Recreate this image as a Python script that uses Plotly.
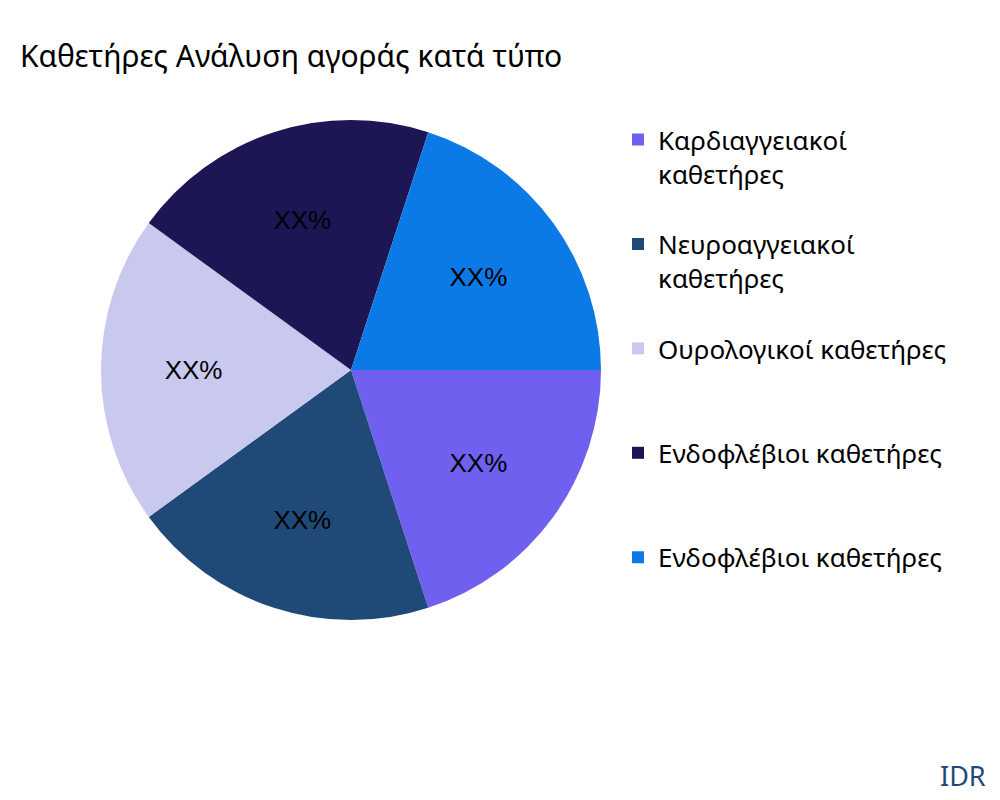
import plotly.graph_objects as go

labels = [
    " <br>Καρδιαγγειακοί<br>καθετήρες",
    " <br>Νευροαγγειακοί<br>καθετήρες",
    " <br>Ουρολογικοί καθετήρες<br> ",
    " <br>Ενδοφλέβιοι καθετήρες<br> ",
    " <br>Ενδοφλέβιοι καθετήρες <br> ",
]
values = [20, 20, 20, 20, 20]
colors = ["#7060F0", "#1F4A78", "#C9C9F0", "#1C1655", "#0C7AE6"]

fig = go.Figure()
fig.add_trace(go.Pie(
    labels=labels, values=values, sort=False, direction="clockwise", rotation=90,
    marker=dict(colors=colors), texttemplate="XX%", textposition="inside",
    textfont=dict(family="Liberation Sans, Arial", size=26, color="black"),
    domain=dict(x=[0.093, 0.593], y=[0.235, 0.86]), hoverinfo="label",
))

fig.update_layout(
    width=1000, height=800, paper_bgcolor="white",
    font=dict(family="Noto Sans", color="black"),
    title=dict(text="Καθετήρες Ανάλυση αγοράς κατά τύπο", x=0.012, y=0.94,
               xanchor="left", yanchor="middle", font=dict(size=30)),
    margin=dict(l=0, r=0, t=0, b=0),
    legend=dict(x=0.61, y=0.907, xanchor="left", yanchor="top",
                font=dict(size=26), itemwidth=30),
    annotations=[dict(text="IDR", x=0.98, y=0.015, xref="paper", yref="paper",
                      xanchor="right", yanchor="bottom", showarrow=False,
                      font=dict(size=27, color="#1F4A78"))],
)

fig.write_html("out.html")
